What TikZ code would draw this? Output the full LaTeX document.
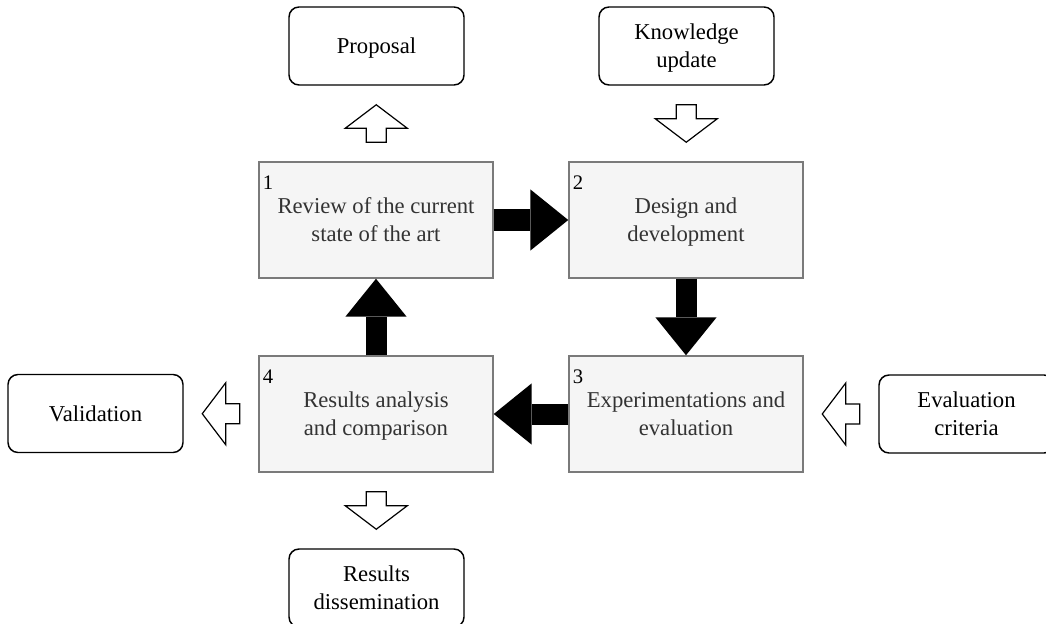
\documentclass[tikz,border=0pt]{standalone}
\usepackage{fontspec}
\setmainfont{Liberation Serif}
\usetikzlibrary{arrows.meta,calc}
\definecolor{stepfill}{HTML}{F5F5F5}
\definecolor{stepline}{HTML}{7A7A7A}
\definecolor{steptext}{HTML}{333333}
\begin{document}
\begin{tikzpicture}[x=0.75pt,y=-0.75pt,
  stepbox/.style={draw=stepline, fill=stepfill, line width=1.1pt,
    minimum width=175.5pt, minimum height=87pt, inner sep=0pt,
    text=steptext, align=center, text depth=0pt,
    font=\fontsize{17}{21}\selectfont},
  outbox/.style={draw=black, rounded corners=7.5pt, line width=1.1pt,
    minimum width=131.25pt, minimum height=58.5pt, inner sep=0pt,
    align=center, text depth=0pt, font=\fontsize{17}{21}\selectfont},
  stepnum/.style={anchor=north west, inner sep=0pt, outer sep=0pt,
    font=\fontsize{15.5}{18}\selectfont},
  flow/.style={line width=15.75pt,
    -{Triangle[length=28.5pt,width=46pt,line width=0pt]}},
  hollowarrow/.pic={
    \draw[line width=0.9pt, fill=white, line join=miter]
      (18.75,0) -- (-4.75,31) -- (-4.75,10) -- (-18.75,10)
      -- (-18.75,-10) -- (-4.75,-10) -- (-4.75,-31) -- cycle;}
]
\useasboundingbox (0,0) rectangle (1046,624);

% the four steps of the cycle
\node[stepbox] (b1) at (376,220) {Review of the current\\state of the art};
\node[stepbox] (b2) at (686,220) {Design and\\development};
\node[stepbox] (b3) at (686,414) {Experimentations and\\evaluation};
\node[stepbox] (b4) at (376,414) {Results analysis\\and comparison};

% step numbers
\node[stepnum] (n1) at ([xshift=3.5pt,yshift=-10.8pt]b1.north west) {1};
\node[stepnum] (n2) at ([xshift=3.5pt,yshift=-10.8pt]b2.north west) {2};
\node[stepnum] (n3) at ([xshift=3.5pt,yshift=-10.8pt]b3.north west) {3};
\node[stepnum] (n4) at ([xshift=3.5pt,yshift=-10.8pt]b4.north west) {4};

% inputs and outputs
\node[outbox] (prop)  at (376.5,46)   {Proposal};
\node[outbox] (know)  at (686.5,46)   {Knowledge\\update};
\node[outbox] (valid) at (95.5,413.5) {Validation};
\node[outbox] (evalc) at (966.5,414)  {Evaluation\\criteria};
\node[outbox] (diss)  at (376.5,588)  {Results\\dissemination};

% the cycle
\draw[flow] (b1.east)  -- (b2.west);
\draw[flow] (b2.south) -- (b3.north);
\draw[flow] (b3.west)  -- (b4.east);
\draw[flow] (b4.north) -- (b1.south);

% inputs and outputs arrows
\pic[rotate=90]  at ($(b1.north)!0.5!(prop.south)$) {hollowarrow};
\pic[rotate=-90] at ($(know.south)!0.5!(b2.north)$) {hollowarrow};
\pic[rotate=180] at ($(b4.west)!0.5!(valid.east)$) {hollowarrow};
\pic[rotate=180] at ($(evalc.west)!0.5!(b3.east)$) {hollowarrow};
\pic[rotate=-90] at ($(b4.south)!0.5!(diss.north)$) {hollowarrow};
\end{tikzpicture}
\end{document}
